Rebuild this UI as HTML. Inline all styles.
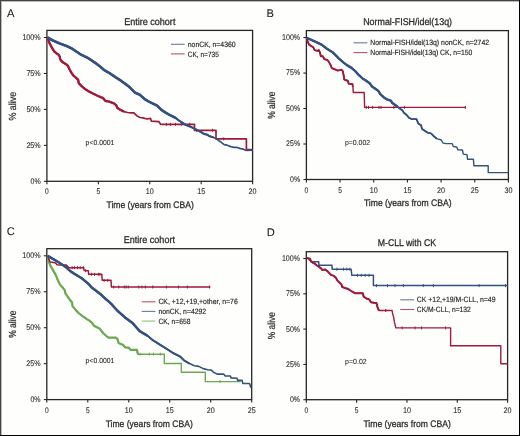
<!DOCTYPE html>
<html><head><meta charset="utf-8"><style>html,body{margin:0;padding:0;background:#fff;width:520px;height:436px;overflow:hidden}</style></head>
<body><svg width="520" height="436" viewBox="0 0 520 436" style="display:block;will-change:transform"><g font-family='"Liberation Sans", sans-serif' text-rendering="geometricPrecision"><rect x="0" y="0" width="520" height="436" fill="#fefefd"/><rect x="0.5" y="0.5" width="519" height="435" fill="none" stroke="#444" stroke-width="1"/><line x1="0" y1="435.5" x2="520" y2="435.5" stroke="#000" stroke-width="1"/><line x1="519.5" y1="0" x2="519.5" y2="436" stroke="#000" stroke-width="1"/><line x1="1.5" y1="1" x2="1.5" y2="435" stroke="#bbb" stroke-width="1"/><line x1="1" y1="1.5" x2="519" y2="1.5" stroke="#bbb" stroke-width="1"/><rect x="46.9" y="30.4" width="205.70" height="150.90" fill="none" stroke="#262626" stroke-width="1.3"/><line x1="43.9" y1="37.5" x2="46.9" y2="37.5" stroke="#262626" stroke-width="1.1"/><text x="40.7" y="39.9" font-size="8.2" text-anchor="end" textLength="18.3" lengthAdjust="spacingAndGlyphs" fill="#2b2b2b" stroke="#2b2b2b" stroke-width="0.1">100%</text><line x1="43.9" y1="73.45" x2="46.9" y2="73.45" stroke="#262626" stroke-width="1.1"/><text x="40.7" y="75.85" font-size="8.2" text-anchor="end" textLength="14.3" lengthAdjust="spacingAndGlyphs" fill="#2b2b2b" stroke="#2b2b2b" stroke-width="0.1">75%</text><line x1="43.9" y1="109.4" x2="46.9" y2="109.4" stroke="#262626" stroke-width="1.1"/><text x="40.7" y="111.8" font-size="8.2" text-anchor="end" textLength="14.3" lengthAdjust="spacingAndGlyphs" fill="#2b2b2b" stroke="#2b2b2b" stroke-width="0.1">50%</text><line x1="43.9" y1="145.35" x2="46.9" y2="145.35" stroke="#262626" stroke-width="1.1"/><text x="40.7" y="147.75" font-size="8.2" text-anchor="end" textLength="14.3" lengthAdjust="spacingAndGlyphs" fill="#2b2b2b" stroke="#2b2b2b" stroke-width="0.1">25%</text><line x1="43.9" y1="181.3" x2="46.9" y2="181.3" stroke="#262626" stroke-width="1.1"/><text x="40.7" y="183.7" font-size="8.2" text-anchor="end" textLength="10.2" lengthAdjust="spacingAndGlyphs" fill="#2b2b2b" stroke="#2b2b2b" stroke-width="0.1">0%</text><line x1="46.9" y1="181.3" x2="46.9" y2="184.3" stroke="#262626" stroke-width="1.1"/><text x="46.9" y="194.3" font-size="8.2" text-anchor="middle" textLength="3.7" lengthAdjust="spacingAndGlyphs" fill="#2b2b2b" stroke="#2b2b2b" stroke-width="0.1">0</text><line x1="98.32" y1="181.3" x2="98.32" y2="184.3" stroke="#262626" stroke-width="1.1"/><text x="98.32" y="194.3" font-size="8.2" text-anchor="middle" textLength="3.7" lengthAdjust="spacingAndGlyphs" fill="#2b2b2b" stroke="#2b2b2b" stroke-width="0.1">5</text><line x1="149.75" y1="181.3" x2="149.75" y2="184.3" stroke="#262626" stroke-width="1.1"/><text x="149.75" y="194.3" font-size="8.2" text-anchor="middle" textLength="8.0" lengthAdjust="spacingAndGlyphs" fill="#2b2b2b" stroke="#2b2b2b" stroke-width="0.1">10</text><line x1="201.17" y1="181.3" x2="201.17" y2="184.3" stroke="#262626" stroke-width="1.1"/><text x="201.17" y="194.3" font-size="8.2" text-anchor="middle" textLength="8.0" lengthAdjust="spacingAndGlyphs" fill="#2b2b2b" stroke="#2b2b2b" stroke-width="0.1">15</text><line x1="252.6" y1="181.3" x2="252.6" y2="184.3" stroke="#262626" stroke-width="1.1"/><text x="252.6" y="194.3" font-size="8.2" text-anchor="middle" textLength="8.0" lengthAdjust="spacingAndGlyphs" fill="#2b2b2b" stroke="#2b2b2b" stroke-width="0.1">20</text><rect x="306.4" y="30.6" width="202.00" height="148.90" fill="none" stroke="#262626" stroke-width="1.3"/><line x1="303.4" y1="37.56" x2="306.4" y2="37.56" stroke="#262626" stroke-width="1.1"/><text x="300.2" y="39.96" font-size="8.2" text-anchor="end" textLength="18.2" lengthAdjust="spacingAndGlyphs" fill="#2b2b2b" stroke="#2b2b2b" stroke-width="0.1">100%</text><line x1="303.4" y1="73.05" x2="306.4" y2="73.05" stroke="#262626" stroke-width="1.1"/><text x="300.2" y="75.45" font-size="8.2" text-anchor="end" textLength="14.1" lengthAdjust="spacingAndGlyphs" fill="#2b2b2b" stroke="#2b2b2b" stroke-width="0.1">75%</text><line x1="303.4" y1="108.53" x2="306.4" y2="108.53" stroke="#262626" stroke-width="1.1"/><text x="300.2" y="110.93" font-size="8.2" text-anchor="end" textLength="14.1" lengthAdjust="spacingAndGlyphs" fill="#2b2b2b" stroke="#2b2b2b" stroke-width="0.1">50%</text><line x1="303.4" y1="144.01" x2="306.4" y2="144.01" stroke="#262626" stroke-width="1.1"/><text x="300.2" y="146.41" font-size="8.2" text-anchor="end" textLength="14.1" lengthAdjust="spacingAndGlyphs" fill="#2b2b2b" stroke="#2b2b2b" stroke-width="0.1">25%</text><line x1="303.4" y1="179.5" x2="306.4" y2="179.5" stroke="#262626" stroke-width="1.1"/><text x="300.2" y="181.9" font-size="8.2" text-anchor="end" textLength="10.2" lengthAdjust="spacingAndGlyphs" fill="#2b2b2b" stroke="#2b2b2b" stroke-width="0.1">0%</text><line x1="306.4" y1="179.5" x2="306.4" y2="182.5" stroke="#262626" stroke-width="1.1"/><text x="306.4" y="192.5" font-size="8.2" text-anchor="middle" textLength="3.7" lengthAdjust="spacingAndGlyphs" fill="#2b2b2b" stroke="#2b2b2b" stroke-width="0.1">0</text><line x1="340.07" y1="179.5" x2="340.07" y2="182.5" stroke="#262626" stroke-width="1.1"/><text x="340.07" y="192.5" font-size="8.2" text-anchor="middle" textLength="3.7" lengthAdjust="spacingAndGlyphs" fill="#2b2b2b" stroke="#2b2b2b" stroke-width="0.1">5</text><line x1="373.73" y1="179.5" x2="373.73" y2="182.5" stroke="#262626" stroke-width="1.1"/><text x="373.73" y="192.5" font-size="8.2" text-anchor="middle" textLength="8.0" lengthAdjust="spacingAndGlyphs" fill="#2b2b2b" stroke="#2b2b2b" stroke-width="0.1">10</text><line x1="407.4" y1="179.5" x2="407.4" y2="182.5" stroke="#262626" stroke-width="1.1"/><text x="407.4" y="192.5" font-size="8.2" text-anchor="middle" textLength="8.0" lengthAdjust="spacingAndGlyphs" fill="#2b2b2b" stroke="#2b2b2b" stroke-width="0.1">15</text><line x1="441.07" y1="179.5" x2="441.07" y2="182.5" stroke="#262626" stroke-width="1.1"/><text x="441.07" y="192.5" font-size="8.2" text-anchor="middle" textLength="8.0" lengthAdjust="spacingAndGlyphs" fill="#2b2b2b" stroke="#2b2b2b" stroke-width="0.1">20</text><line x1="474.73" y1="179.5" x2="474.73" y2="182.5" stroke="#262626" stroke-width="1.1"/><text x="474.73" y="192.5" font-size="8.2" text-anchor="middle" textLength="8.0" lengthAdjust="spacingAndGlyphs" fill="#2b2b2b" stroke="#2b2b2b" stroke-width="0.1">25</text><line x1="508.4" y1="179.5" x2="508.4" y2="182.5" stroke="#262626" stroke-width="1.1"/><text x="508.4" y="192.5" font-size="8.2" text-anchor="middle" textLength="8.0" lengthAdjust="spacingAndGlyphs" fill="#2b2b2b" stroke="#2b2b2b" stroke-width="0.1">30</text><rect x="46.8" y="248.7" width="204.90" height="150.90" fill="none" stroke="#262626" stroke-width="1.3"/><line x1="43.8" y1="255.8" x2="46.8" y2="255.8" stroke="#262626" stroke-width="1.1"/><text x="40.6" y="258.2" font-size="8.2" text-anchor="end" textLength="18.3" lengthAdjust="spacingAndGlyphs" fill="#2b2b2b" stroke="#2b2b2b" stroke-width="0.1">100%</text><line x1="43.8" y1="291.75" x2="46.8" y2="291.75" stroke="#262626" stroke-width="1.1"/><text x="40.6" y="294.15" font-size="8.2" text-anchor="end" textLength="14.3" lengthAdjust="spacingAndGlyphs" fill="#2b2b2b" stroke="#2b2b2b" stroke-width="0.1">75%</text><line x1="43.8" y1="327.7" x2="46.8" y2="327.7" stroke="#262626" stroke-width="1.1"/><text x="40.6" y="330.1" font-size="8.2" text-anchor="end" textLength="14.3" lengthAdjust="spacingAndGlyphs" fill="#2b2b2b" stroke="#2b2b2b" stroke-width="0.1">50%</text><line x1="43.8" y1="363.65" x2="46.8" y2="363.65" stroke="#262626" stroke-width="1.1"/><text x="40.6" y="366.05" font-size="8.2" text-anchor="end" textLength="14.3" lengthAdjust="spacingAndGlyphs" fill="#2b2b2b" stroke="#2b2b2b" stroke-width="0.1">25%</text><line x1="43.8" y1="399.6" x2="46.8" y2="399.6" stroke="#262626" stroke-width="1.1"/><text x="40.6" y="402.0" font-size="8.2" text-anchor="end" textLength="10.2" lengthAdjust="spacingAndGlyphs" fill="#2b2b2b" stroke="#2b2b2b" stroke-width="0.1">0%</text><line x1="46.8" y1="399.6" x2="46.8" y2="402.6" stroke="#262626" stroke-width="1.1"/><text x="46.8" y="412.5" font-size="8.2" text-anchor="middle" textLength="3.7" lengthAdjust="spacingAndGlyphs" fill="#2b2b2b" stroke="#2b2b2b" stroke-width="0.1">0</text><line x1="87.78" y1="399.6" x2="87.78" y2="402.6" stroke="#262626" stroke-width="1.1"/><text x="87.78" y="412.5" font-size="8.2" text-anchor="middle" textLength="3.7" lengthAdjust="spacingAndGlyphs" fill="#2b2b2b" stroke="#2b2b2b" stroke-width="0.1">5</text><line x1="128.76" y1="399.6" x2="128.76" y2="402.6" stroke="#262626" stroke-width="1.1"/><text x="128.76" y="412.5" font-size="8.2" text-anchor="middle" textLength="8.0" lengthAdjust="spacingAndGlyphs" fill="#2b2b2b" stroke="#2b2b2b" stroke-width="0.1">10</text><line x1="169.74" y1="399.6" x2="169.74" y2="402.6" stroke="#262626" stroke-width="1.1"/><text x="169.74" y="412.5" font-size="8.2" text-anchor="middle" textLength="8.0" lengthAdjust="spacingAndGlyphs" fill="#2b2b2b" stroke="#2b2b2b" stroke-width="0.1">15</text><line x1="210.72" y1="399.6" x2="210.72" y2="402.6" stroke="#262626" stroke-width="1.1"/><text x="210.72" y="412.5" font-size="8.2" text-anchor="middle" textLength="8.0" lengthAdjust="spacingAndGlyphs" fill="#2b2b2b" stroke="#2b2b2b" stroke-width="0.1">20</text><line x1="251.7" y1="399.6" x2="251.7" y2="402.6" stroke="#262626" stroke-width="1.1"/><text x="251.7" y="412.5" font-size="8.2" text-anchor="middle" textLength="8.0" lengthAdjust="spacingAndGlyphs" fill="#2b2b2b" stroke="#2b2b2b" stroke-width="0.1">25</text><rect x="306.3" y="251.7" width="201.30" height="148.00" fill="none" stroke="#262626" stroke-width="1.3"/><line x1="303.3" y1="258.5" x2="306.3" y2="258.5" stroke="#262626" stroke-width="1.1"/><text x="300.1" y="260.9" font-size="8.2" text-anchor="end" textLength="18.2" lengthAdjust="spacingAndGlyphs" fill="#2b2b2b" stroke="#2b2b2b" stroke-width="0.1">100%</text><line x1="303.3" y1="293.8" x2="306.3" y2="293.8" stroke="#262626" stroke-width="1.1"/><text x="300.1" y="296.2" font-size="8.2" text-anchor="end" textLength="14.1" lengthAdjust="spacingAndGlyphs" fill="#2b2b2b" stroke="#2b2b2b" stroke-width="0.1">75%</text><line x1="303.3" y1="329.1" x2="306.3" y2="329.1" stroke="#262626" stroke-width="1.1"/><text x="300.1" y="331.5" font-size="8.2" text-anchor="end" textLength="14.1" lengthAdjust="spacingAndGlyphs" fill="#2b2b2b" stroke="#2b2b2b" stroke-width="0.1">50%</text><line x1="303.3" y1="364.4" x2="306.3" y2="364.4" stroke="#262626" stroke-width="1.1"/><text x="300.1" y="366.8" font-size="8.2" text-anchor="end" textLength="14.1" lengthAdjust="spacingAndGlyphs" fill="#2b2b2b" stroke="#2b2b2b" stroke-width="0.1">25%</text><line x1="303.3" y1="399.7" x2="306.3" y2="399.7" stroke="#262626" stroke-width="1.1"/><text x="300.1" y="402.1" font-size="8.2" text-anchor="end" textLength="10.2" lengthAdjust="spacingAndGlyphs" fill="#2b2b2b" stroke="#2b2b2b" stroke-width="0.1">0%</text><line x1="306.3" y1="399.7" x2="306.3" y2="402.7" stroke="#262626" stroke-width="1.1"/><text x="306.3" y="412.6" font-size="8.2" text-anchor="middle" textLength="3.7" lengthAdjust="spacingAndGlyphs" fill="#2b2b2b" stroke="#2b2b2b" stroke-width="0.1">0</text><line x1="356.62" y1="399.7" x2="356.62" y2="402.7" stroke="#262626" stroke-width="1.1"/><text x="356.62" y="412.6" font-size="8.2" text-anchor="middle" textLength="3.7" lengthAdjust="spacingAndGlyphs" fill="#2b2b2b" stroke="#2b2b2b" stroke-width="0.1">5</text><line x1="406.95" y1="399.7" x2="406.95" y2="402.7" stroke="#262626" stroke-width="1.1"/><text x="406.95" y="412.6" font-size="8.2" text-anchor="middle" textLength="8.0" lengthAdjust="spacingAndGlyphs" fill="#2b2b2b" stroke="#2b2b2b" stroke-width="0.1">10</text><line x1="457.28" y1="399.7" x2="457.28" y2="402.7" stroke="#262626" stroke-width="1.1"/><text x="457.28" y="412.6" font-size="8.2" text-anchor="middle" textLength="8.0" lengthAdjust="spacingAndGlyphs" fill="#2b2b2b" stroke="#2b2b2b" stroke-width="0.1">15</text><line x1="507.6" y1="399.7" x2="507.6" y2="402.7" stroke="#262626" stroke-width="1.1"/><text x="507.6" y="412.6" font-size="8.2" text-anchor="middle" textLength="8.0" lengthAdjust="spacingAndGlyphs" fill="#2b2b2b" stroke="#2b2b2b" stroke-width="0.1">20</text><polyline points="47.5,37.5 48.4,40.1 49.4,42.9 50.8,45.6 52.5,48.7 54.3,51.5 56.3,53.2 58.4,54.6 59.8,56.6 60.0,58.7 61.1,60.8 63.2,62.5 66.0,64.2 68.0,66.0 69.5,69.3 71.3,72.6 73.2,75.3 75.9,77.6 78.2,79.9 78.7,83.1 81.4,85.9 85.1,89.1 88.8,91.4 93.4,93.7 97.0,95.5 100.7,97.2 102.8,97.9 105.5,101.0 109.2,101.6 113.8,103.3 116.1,105.1 117.4,107.9 120.2,109.7 123.9,111.6 127.5,112.5 131.2,112.9 133.9,112.9 136.7,115.7 140.0,117.5 143.1,117.9 146.8,119.0 150.5,118.4 151.4,121.2 158.7,121.6 160.6,124.3 194.5,124.3 194.5,130.3 216.0,130.3 216.0,138.9 246.4,138.9 246.4,149.5 252.6,149.5" fill="none" stroke="#9f1a3b" stroke-width="1.7" stroke-linejoin="round" stroke-linecap="butt" opacity="1"/><polyline points="47.5,37.5 48.4,40.1 49.4,42.9 50.8,45.6 52.5,48.7 54.3,51.5 56.3,53.2 58.4,54.6 59.8,56.6 60.0,58.7 61.1,60.8 63.2,62.5 66.0,64.2 68.0,66.0 69.5,69.3 71.3,72.6 73.2,75.3 75.9,77.6 78.2,79.9 78.7,83.1 81.4,85.9 85.1,89.1 88.8,91.4 93.4,93.7 97.0,95.5 100.7,97.2 102.8,97.9 105.5,101.0 109.2,101.6 113.8,103.3 116.1,105.1 117.4,107.9 120.2,109.7 123.9,111.6" fill="none" stroke="#9f1a3b" stroke-width="2.4" stroke-linejoin="round" stroke-linecap="butt" opacity="1"/><line x1="166.3" y1="122.8" x2="166.3" y2="125.8" stroke="#9f1a3b" stroke-width="1.0"/><line x1="170.4" y1="122.8" x2="170.4" y2="125.8" stroke="#9f1a3b" stroke-width="1.0"/><line x1="175.5" y1="122.8" x2="175.5" y2="125.8" stroke="#9f1a3b" stroke-width="1.0"/><line x1="181.4" y1="122.8" x2="181.4" y2="125.8" stroke="#9f1a3b" stroke-width="1.0"/><line x1="189.7" y1="122.8" x2="189.7" y2="125.8" stroke="#9f1a3b" stroke-width="1.0"/><line x1="196.6" y1="128.8" x2="196.6" y2="131.8" stroke="#9f1a3b" stroke-width="1.0"/><line x1="212.5" y1="128.8" x2="212.5" y2="131.8" stroke="#9f1a3b" stroke-width="1.0"/><line x1="223.7" y1="137.4" x2="223.7" y2="140.4" stroke="#9f1a3b" stroke-width="1.0"/><polyline points="47.5,37.5 52.9,40.5 59.8,43.5 66.6,46.0 72.2,48.7 76.0,51.3 80.4,54.3 87.3,57.7 89.7,59.2 95.2,62.8 100.7,67.0 104.3,70.2 109.9,73.4 115.4,77.1 120.9,80.7 126.0,84.4 129.2,86.8 135.2,92.8 139.8,94.7 144.3,98.8 148.9,101.6 153.5,103.9 157.2,105.7 160.9,109.4 164.0,111.7 168.6,114.4 173.2,116.7 175.9,118.1 178.7,120.4 182.3,122.7 186.0,125.0 190.6,126.8 194.3,128.6 197.9,130.5 200.7,131.9 204.0,133.9 206.9,134.6 209.8,136.3 213.6,137.5 216.0,138.5 218.4,140.4 221.3,142.3 224.2,144.7 227.1,145.2 230.9,146.6 233.8,147.3 236.7,147.3 240.5,148.6 243.4,149.2 246.3,150.5 252.6,150.2" fill="none" stroke="#33527f" stroke-width="1.7" stroke-linejoin="round" stroke-linecap="butt" opacity="1"/><polyline points="47.5,37.5 52.9,40.5 59.8,43.5 66.6,46.0 72.2,48.7 76.0,51.3 80.4,54.3 87.3,57.7 89.7,59.2 95.2,62.8 100.7,67.0 104.3,70.2 109.9,73.4 115.4,77.1 120.9,80.7 126.0,84.4 129.2,86.8 135.2,92.8 139.8,94.7 144.3,98.8 148.9,101.6 153.5,103.9 157.2,105.7 160.9,109.4 164.0,111.7 168.6,114.4 173.2,116.7 175.9,118.1 178.7,120.4 182.3,122.7 186.0,125.0 190.6,126.8 194.3,128.6 197.9,130.5 200.7,131.9 204.0,133.9 206.9,134.6 209.8,136.3 213.6,137.5" fill="none" stroke="#33527f" stroke-width="2.1" stroke-linejoin="round" stroke-linecap="butt" opacity="1"/><polyline points="47.5,37.5 52.9,40.5 59.8,43.5 66.6,46.0 72.2,48.7 76.0,51.3 80.4,54.3 87.3,57.7 89.7,59.2 95.2,62.8 100.7,67.0 104.3,70.2 109.9,73.4 115.4,77.1 120.9,80.7 126.0,84.4 129.2,86.8 135.2,92.8 139.8,94.7 144.3,98.8 148.9,101.6 153.5,103.9 157.2,105.7 160.9,109.4 164.0,111.7 168.6,114.4 173.2,116.7 175.9,118.1" fill="none" stroke="#33527f" stroke-width="2.6" stroke-linejoin="round" stroke-linecap="butt" opacity="1"/><polyline points="306.7,37.8 307.8,41.9 309.1,44.6 311.2,46.0 313.3,47.4 314.6,50.1 317.4,50.8 318.8,50.1 320.1,52.9 320.8,56.3 322.9,56.3 324.3,59.1 327.0,59.8 328.4,61.1 330.4,64.6 331.8,68.0 334.6,69.4 335.0,69.3 337.8,70.6 341.4,69.7 342.8,71.1 343.7,75.7 344.2,79.4 346.0,80.3 347.8,80.7 348.8,83.9 352.4,83.9 352.9,86.7 353.3,92.5 364.2,92.5 364.6,107.4 466.1,107.4" fill="none" stroke="#9f1a3b" stroke-width="1.4" stroke-linejoin="round" stroke-linecap="butt" opacity="1"/><polyline points="306.7,37.8 307.8,41.9 309.1,44.6 311.2,46.0 313.3,47.4 314.6,50.1 317.4,50.8 318.8,50.1 320.1,52.9 320.8,56.3 322.9,56.3 324.3,59.1 327.0,59.8 328.4,61.1 330.4,64.6 331.8,68.0 334.6,69.4 335.0,69.3 337.8,70.6 341.4,69.7 342.8,71.1 343.7,75.7 344.2,79.4 346.0,80.3 347.8,80.7 348.8,83.9 352.4,83.9 352.9,86.7" fill="none" stroke="#9f1a3b" stroke-width="1.9" stroke-linejoin="round" stroke-linecap="butt" opacity="1"/><line x1="366.3" y1="105.9" x2="366.3" y2="108.9" stroke="#9f1a3b" stroke-width="1.0"/><line x1="368.5" y1="105.9" x2="368.5" y2="108.9" stroke="#9f1a3b" stroke-width="1.0"/><line x1="372.7" y1="105.9" x2="372.7" y2="108.9" stroke="#9f1a3b" stroke-width="1.0"/><line x1="379" y1="105.9" x2="379" y2="108.9" stroke="#9f1a3b" stroke-width="1.0"/><line x1="381.1" y1="105.9" x2="381.1" y2="108.9" stroke="#9f1a3b" stroke-width="1.0"/><line x1="393.8" y1="105.9" x2="393.8" y2="108.9" stroke="#9f1a3b" stroke-width="1.0"/><line x1="404.4" y1="105.9" x2="404.4" y2="108.9" stroke="#9f1a3b" stroke-width="1.0"/><line x1="465.3" y1="105.9" x2="465.3" y2="108.9" stroke="#9f1a3b" stroke-width="1.0"/><polyline points="306.7,37.8 311.9,40.2 317.4,42.6 321.5,44.6 327.0,48.8 332.5,52.2 335.0,54.6 338.7,58.3 343.3,62.4 346.9,65.1 351.5,67.9 355.2,71.1 358.9,75.2 362.5,78.4 366.2,80.7 369.9,83.5 372.0,86.5 375.7,89.1 378.4,91.0 380.3,94.2 383.9,97.4 387.6,99.7 390.8,100.6 392.2,102.9 394.9,104.7 397.7,107.0 400.4,108.9 402.3,110.2 403.7,112.5 406.9,115.3 409.2,118.0 412.0,119.1 416.5,119.1 418.3,123.4 421.1,125.3 422.0,128.9 424.8,130.8 427.5,132.6 431.2,133.5 433.9,136.3 436.7,138.7 441.3,140.0 443.1,143.1 445.9,143.6 452.3,143.6 453.2,146.4 456.9,147.3 457.8,149.7 462.4,150.0 463.3,154.1 467.0,154.6 467.5,159.2 473.4,159.2 473.9,165.8 488.2,165.8 488.2,172.6 508.4,172.6" fill="none" stroke="#33527f" stroke-width="1.4" stroke-linejoin="round" stroke-linecap="butt" opacity="1"/><polyline points="306.7,37.8 311.9,40.2 317.4,42.6 321.5,44.6 327.0,48.8 332.5,52.2 335.0,54.6 338.7,58.3 343.3,62.4 346.9,65.1 351.5,67.9 355.2,71.1 358.9,75.2 362.5,78.4 366.2,80.7 369.9,83.5 372.0,86.5 375.7,89.1 378.4,91.0 380.3,94.2 383.9,97.4 387.6,99.7 390.8,100.6 392.2,102.9 394.9,104.7 397.7,107.0 400.4,108.9 402.3,110.2 403.7,112.5 406.9,115.3 409.2,118.0 412.0,119.1 416.5,119.1 418.3,123.4 421.1,125.3 422.0,128.9 424.8,130.8 427.5,132.6 431.2,133.5 433.9,136.3 436.7,138.7" fill="none" stroke="#33527f" stroke-width="1.8" stroke-linejoin="round" stroke-linecap="butt" opacity="1"/><polyline points="306.7,37.8 311.9,40.2 317.4,42.6 321.5,44.6 327.0,48.8 332.5,52.2 335.0,54.6 338.7,58.3 343.3,62.4 346.9,65.1 351.5,67.9 355.2,71.1 358.9,75.2 362.5,78.4 366.2,80.7 369.9,83.5 372.0,86.5 375.7,89.1 378.4,91.0 380.3,94.2 383.9,97.4 387.6,99.7 390.8,100.6 392.2,102.9 394.9,104.7 397.7,107.0" fill="none" stroke="#33527f" stroke-width="2.4" stroke-linejoin="round" stroke-linecap="butt" opacity="1"/><polyline points="47.7,255.8 48.5,260.3 50.1,265.1 52.9,269.9 55.6,274.7 57.8,280.0 59.7,284.1 62.4,287.3 64.7,290.1 65.2,292.8 67.5,296.5 69.8,299.7 72.1,302.5 72.5,306.1 75.3,309.4 78.5,313.0 82.6,316.2 87.2,319.4 89.0,320.4 92.0,322.9 93.9,325.7 99.4,328.4 103.0,333.0 106.7,336.3 108.5,337.6 115.9,337.6 117.7,339.4 118.6,343.1 123.2,345.0 125.0,347.3 128.7,347.7 130.6,349.9 137.0,349.9 137.9,354.2 164.3,354.2 164.3,363.5 181.3,363.5 181.3,372.3 205.3,372.3 205.3,381.6 240.7,381.6" fill="none" stroke="#6aaa50" stroke-width="1.4" stroke-linejoin="round" stroke-linecap="butt" opacity="1"/><polyline points="47.7,255.8 48.5,260.3 50.1,265.1 52.9,269.9 55.6,274.7 57.8,280.0 59.7,284.1 62.4,287.3 64.7,290.1 65.2,292.8 67.5,296.5 69.8,299.7 72.1,302.5 72.5,306.1 75.3,309.4 78.5,313.0 82.6,316.2 87.2,319.4 89.0,320.4 92.0,322.9 93.9,325.7 99.4,328.4 103.0,333.0 106.7,336.3 108.5,337.6 115.9,337.6 117.7,339.4 118.6,343.1 123.2,345.0 125.0,347.3 128.7,347.7 130.6,349.9 137.0,349.9 137.9,354.2" fill="none" stroke="#6aaa50" stroke-width="2.2" stroke-linejoin="round" stroke-linecap="butt" opacity="1"/><polyline points="47.7,255.8 49.4,260.3 50.1,261.9 52.2,262.3 55.6,263.0 57.0,264.7 61.1,265.1 66.6,265.1 68.0,266.9 69.1,267.7 83.7,267.7 84.1,270.5 88.3,270.7 88.7,274.3 101.8,274.3 102.2,280.3 111.0,280.3 111.4,287.0 210.4,287.0" fill="none" stroke="#9f1a3b" stroke-width="1.5" stroke-linejoin="round" stroke-linecap="butt" opacity="1"/><line x1="140.1" y1="352.7" x2="140.1" y2="355.7" stroke="#6aaa50" stroke-width="1.0"/><line x1="149.3" y1="352.7" x2="149.3" y2="355.7" stroke="#6aaa50" stroke-width="1.0"/><line x1="153.4" y1="352.7" x2="153.4" y2="355.7" stroke="#6aaa50" stroke-width="1.0"/><line x1="160.3" y1="352.7" x2="160.3" y2="355.7" stroke="#6aaa50" stroke-width="1.0"/><line x1="220.1" y1="380.1" x2="220.1" y2="383.1" stroke="#6aaa50" stroke-width="1.0"/><line x1="72.2" y1="266.2" x2="72.2" y2="269.2" stroke="#9f1a3b" stroke-width="1.0"/><line x1="74.5" y1="266.2" x2="74.5" y2="269.2" stroke="#9f1a3b" stroke-width="1.0"/><line x1="77.5" y1="266.2" x2="77.5" y2="269.2" stroke="#9f1a3b" stroke-width="1.0"/><line x1="80.2" y1="266.2" x2="80.2" y2="269.2" stroke="#9f1a3b" stroke-width="1.0"/><line x1="83.3" y1="266.2" x2="83.3" y2="269.2" stroke="#9f1a3b" stroke-width="1.0"/><line x1="85.6" y1="269.2" x2="85.6" y2="272.2" stroke="#9f1a3b" stroke-width="1.0"/><line x1="91.4" y1="272.8" x2="91.4" y2="275.8" stroke="#9f1a3b" stroke-width="1.0"/><line x1="94.5" y1="272.8" x2="94.5" y2="275.8" stroke="#9f1a3b" stroke-width="1.0"/><line x1="98.3" y1="272.8" x2="98.3" y2="275.8" stroke="#9f1a3b" stroke-width="1.0"/><line x1="99.8" y1="272.8" x2="99.8" y2="275.8" stroke="#9f1a3b" stroke-width="1.0"/><line x1="104.1" y1="278.8" x2="104.1" y2="281.8" stroke="#9f1a3b" stroke-width="1.0"/><line x1="107.7" y1="278.8" x2="107.7" y2="281.8" stroke="#9f1a3b" stroke-width="1.0"/><line x1="113.7" y1="285.5" x2="113.7" y2="288.5" stroke="#9f1a3b" stroke-width="1.0"/><line x1="118.8" y1="285.5" x2="118.8" y2="288.5" stroke="#9f1a3b" stroke-width="1.0"/><line x1="124.3" y1="285.5" x2="124.3" y2="288.5" stroke="#9f1a3b" stroke-width="1.0"/><line x1="126.1" y1="285.5" x2="126.1" y2="288.5" stroke="#9f1a3b" stroke-width="1.0"/><line x1="128.3" y1="285.5" x2="128.3" y2="288.5" stroke="#9f1a3b" stroke-width="1.0"/><line x1="138.7" y1="285.5" x2="138.7" y2="288.5" stroke="#9f1a3b" stroke-width="1.0"/><line x1="142" y1="285.5" x2="142" y2="288.5" stroke="#9f1a3b" stroke-width="1.0"/><line x1="145.4" y1="285.5" x2="145.4" y2="288.5" stroke="#9f1a3b" stroke-width="1.0"/><line x1="152.7" y1="285.5" x2="152.7" y2="288.5" stroke="#9f1a3b" stroke-width="1.0"/><line x1="166.4" y1="285.5" x2="166.4" y2="288.5" stroke="#9f1a3b" stroke-width="1.0"/><line x1="178.5" y1="285.5" x2="178.5" y2="288.5" stroke="#9f1a3b" stroke-width="1.0"/><line x1="187.4" y1="285.5" x2="187.4" y2="288.5" stroke="#9f1a3b" stroke-width="1.0"/><line x1="209.5" y1="285.5" x2="209.5" y2="288.5" stroke="#9f1a3b" stroke-width="1.0"/><polyline points="47.7,255.8 52.9,258.9 59.8,263.0 66.0,267.2 69.8,270.7 73.7,273.4 77.5,275.7 81.4,278.0 85.2,281.1 89.1,284.5 91.4,287.2 94.1,289.3 101.0,294.6 105.5,298.8 111.0,303.6 117.7,311.0 125.0,317.4 132.4,322.9 139.7,331.2 147.3,335.6 152.8,340.2 160.2,344.8 167.5,349.4 173.0,353.0 180.4,356.7 184.0,360.4 189.5,363.6 194.4,365.7 198.8,366.4 203.2,368.6 207.6,369.7 211.3,370.1 213.5,372.3 217.2,374.1 223.8,374.1 225.2,376.0 230.4,376.0 231.1,377.9 237.0,378.2 237.7,380.4 242.1,380.4 242.9,383.5 249.5,383.5 251.0,387.7" fill="none" stroke="#33527f" stroke-width="1.6" stroke-linejoin="round" stroke-linecap="butt" opacity="1"/><polyline points="47.7,255.8 52.9,258.9 59.8,263.0 66.0,267.2 69.8,270.7 73.7,273.4 77.5,275.7 81.4,278.0 85.2,281.1 89.1,284.5 91.4,287.2 94.1,289.3 101.0,294.6 105.5,298.8 111.0,303.6 117.7,311.0 125.0,317.4 132.4,322.9 139.7,331.2 147.3,335.6 152.8,340.2 160.2,344.8 167.5,349.4 173.0,353.0 180.4,356.7 184.0,360.4 189.5,363.6" fill="none" stroke="#33527f" stroke-width="2.0" stroke-linejoin="round" stroke-linecap="butt" opacity="1"/><polyline points="47.7,255.8 52.9,258.9 59.8,263.0 66.0,267.2 69.8,270.7 73.7,273.4 77.5,275.7 81.4,278.0 85.2,281.1 89.1,284.5 91.4,287.2 94.1,289.3 101.0,294.6 105.5,298.8 111.0,303.6 117.7,311.0 125.0,317.4 132.4,322.9 139.7,331.2 147.3,335.6" fill="none" stroke="#33527f" stroke-width="2.5" stroke-linejoin="round" stroke-linecap="butt" opacity="1"/><polyline points="306.6,258.1 310.4,258.4 310.7,261.8 318.7,261.8 318.9,265.3 332.0,265.3 332.2,269.2 351.1,269.2 351.8,275.3 373.4,275.3 373.4,285.6 507.6,285.6" fill="none" stroke="#33527f" stroke-width="1.5" stroke-linejoin="round" stroke-linecap="butt" opacity="1"/><polyline points="306.6,258.1 308.4,258.4 310.5,260.5 312.6,262.6 314.6,263.5 316.7,265.3 318.8,266.7 320.8,268.1 322.2,269.9 324.9,269.4 327.0,270.8 329.1,272.9 331.1,274.9 333.9,275.9 335.9,277.7 337.3,280.4 339.4,282.5 341.5,284.6 342.1,286.9 344.9,288.0 347.6,288.7 350.4,290.5 353.1,292.1 355.2,293.3 362.8,293.3 363.7,296.7 366.4,298.5 369.2,299.4 371.0,302.2 373.8,302.8 376.5,303.1 377.4,306.8 378.9,310.5 392.1,310.5 392.7,314.1 393.6,316.9 394.5,322.4 395.8,327.9 450.6,327.9 450.6,345.8 500.8,345.8 500.8,363.8 507.6,363.8" fill="none" stroke="#9f1a3b" stroke-width="1.4" stroke-linejoin="round" stroke-linecap="butt" opacity="1"/><polyline points="306.6,258.1 308.4,258.4 310.5,260.5 312.6,262.6 314.6,263.5 316.7,265.3 318.8,266.7 320.8,268.1 322.2,269.9 324.9,269.4 327.0,270.8 329.1,272.9 331.1,274.9 333.9,275.9 335.9,277.7 337.3,280.4 339.4,282.5 341.5,284.6 342.1,286.9 344.9,288.0 347.6,288.7 350.4,290.5 353.1,292.1 355.2,293.3 362.8,293.3 363.7,296.7 366.4,298.5 369.2,299.4 371.0,302.2 373.8,302.8 376.5,303.1 377.4,306.8 378.9,310.5" fill="none" stroke="#9f1a3b" stroke-width="2.0" stroke-linejoin="round" stroke-linecap="butt" opacity="1"/><line x1="336.9" y1="267.7" x2="336.9" y2="270.7" stroke="#33527f" stroke-width="1.0"/><line x1="343.5" y1="267.7" x2="343.5" y2="270.7" stroke="#33527f" stroke-width="1.0"/><line x1="346.9" y1="267.7" x2="346.9" y2="270.7" stroke="#33527f" stroke-width="1.0"/><line x1="349.8" y1="267.7" x2="349.8" y2="270.7" stroke="#33527f" stroke-width="1.0"/><line x1="357.5" y1="273.8" x2="357.5" y2="276.8" stroke="#33527f" stroke-width="1.0"/><line x1="361.3" y1="273.8" x2="361.3" y2="276.8" stroke="#33527f" stroke-width="1.0"/><line x1="365.2" y1="273.8" x2="365.2" y2="276.8" stroke="#33527f" stroke-width="1.0"/><line x1="369" y1="273.8" x2="369" y2="276.8" stroke="#33527f" stroke-width="1.0"/><line x1="376.5" y1="284.1" x2="376.5" y2="287.1" stroke="#33527f" stroke-width="1.0"/><line x1="387.5" y1="284.1" x2="387.5" y2="287.1" stroke="#33527f" stroke-width="1.0"/><line x1="395" y1="284.1" x2="395" y2="287.1" stroke="#33527f" stroke-width="1.0"/><line x1="403.4" y1="284.1" x2="403.4" y2="287.1" stroke="#33527f" stroke-width="1.0"/><line x1="423.3" y1="284.1" x2="423.3" y2="287.1" stroke="#33527f" stroke-width="1.0"/><line x1="433.4" y1="284.1" x2="433.4" y2="287.1" stroke="#33527f" stroke-width="1.0"/><line x1="479.1" y1="284.1" x2="479.1" y2="287.1" stroke="#33527f" stroke-width="1.0"/><line x1="505.5" y1="284.1" x2="505.5" y2="287.1" stroke="#33527f" stroke-width="1.0"/><line x1="385.7" y1="309.0" x2="385.7" y2="312.0" stroke="#9f1a3b" stroke-width="1.0"/><line x1="402.2" y1="326.4" x2="402.2" y2="329.4" stroke="#9f1a3b" stroke-width="1.0"/><line x1="415" y1="326.4" x2="415" y2="329.4" stroke="#9f1a3b" stroke-width="1.0"/><line x1="421.5" y1="326.4" x2="421.5" y2="329.4" stroke="#9f1a3b" stroke-width="1.0"/><line x1="445.6" y1="326.4" x2="445.6" y2="329.4" stroke="#9f1a3b" stroke-width="1.0"/><text x="7.0" y="17.0" font-size="11.2" fill="#1a1a1a" stroke="#1a1a1a" stroke-width="0.05">A</text><text x="266.6" y="16.9" font-size="11.2" fill="#1a1a1a" stroke="#1a1a1a" stroke-width="0.05">B</text><text x="6.8" y="235.4" font-size="11.2" fill="#1a1a1a" stroke="#1a1a1a" stroke-width="0.05">C</text><text x="266.8" y="235.6" font-size="11.2" fill="#1a1a1a" stroke="#1a1a1a" stroke-width="0.05">D</text><text x="124.2" y="24.9" font-size="9.8" textLength="51.2" lengthAdjust="spacingAndGlyphs" fill="#2b2b2b" stroke="#2b2b2b" stroke-width="0.28">Entire cohort</text><text x="363.2" y="25.0" font-size="9.8" textLength="88.9" lengthAdjust="spacingAndGlyphs" fill="#2b2b2b" stroke="#2b2b2b" stroke-width="0.28">Normal-FISH/idel(13q)</text><text x="123.8" y="243.4" font-size="9.8" textLength="51.1" lengthAdjust="spacingAndGlyphs" fill="#2b2b2b" stroke="#2b2b2b" stroke-width="0.28">Entire cohort</text><text x="377.8" y="246.4" font-size="9.8" textLength="58.3" lengthAdjust="spacingAndGlyphs" fill="#2b2b2b" stroke="#2b2b2b" stroke-width="0.28">M-CLL with CK</text><text x="106.5" y="208.2" font-size="9.5" textLength="87.3" lengthAdjust="spacingAndGlyphs" fill="#2b2b2b" stroke="#2b2b2b" stroke-width="0.28">Time (years from CBA)</text><text x="363.9" y="206.1" font-size="9.5" textLength="87.7" lengthAdjust="spacingAndGlyphs" fill="#2b2b2b" stroke="#2b2b2b" stroke-width="0.28">Time (years from CBA)</text><text x="105.7" y="427.3" font-size="9.5" textLength="87.1" lengthAdjust="spacingAndGlyphs" fill="#2b2b2b" stroke="#2b2b2b" stroke-width="0.28">Time (years from CBA)</text><text x="363.4" y="427.3" font-size="9.5" textLength="87.5" lengthAdjust="spacingAndGlyphs" fill="#2b2b2b" stroke="#2b2b2b" stroke-width="0.28">Time (years from CBA)</text><text x="0" y="0" font-size="10.3" text-anchor="middle" textLength="28.9" lengthAdjust="spacingAndGlyphs" fill="#2b2b2b" stroke="#2b2b2b" stroke-width="0.2" transform="translate(15.7,106.15) rotate(-90)">% alive</text><text x="0" y="0" font-size="10.3" text-anchor="middle" textLength="27.3" lengthAdjust="spacingAndGlyphs" fill="#2b2b2b" stroke="#2b2b2b" stroke-width="0.2" transform="translate(274.9,105.15) rotate(-90)">% alive</text><text x="0" y="0" font-size="10.3" text-anchor="middle" textLength="27.3" lengthAdjust="spacingAndGlyphs" fill="#2b2b2b" stroke="#2b2b2b" stroke-width="0.2" transform="translate(15.7,324.15) rotate(-90)">% alive</text><text x="0" y="0" font-size="10.3" text-anchor="middle" textLength="27.1" lengthAdjust="spacingAndGlyphs" fill="#2b2b2b" stroke="#2b2b2b" stroke-width="0.2" transform="translate(274.8,325.65) rotate(-90)">% alive</text><text x="85.6" y="145.4" font-size="7.3" textLength="28.8" lengthAdjust="spacingAndGlyphs" fill="#2b2b2b" stroke="#2b2b2b" stroke-width="0.08">p&lt;0.0001</text><text x="344.9" y="145.4" font-size="7.3" textLength="25.2" lengthAdjust="spacingAndGlyphs" fill="#2b2b2b" stroke="#2b2b2b" stroke-width="0.08">p=0.002</text><text x="85.6" y="363.3" font-size="7.3" textLength="28.8" lengthAdjust="spacingAndGlyphs" fill="#2b2b2b" stroke="#2b2b2b" stroke-width="0.08">p&lt;0.0001</text><text x="345.1" y="363.7" font-size="7.3" textLength="21.6" lengthAdjust="spacingAndGlyphs" fill="#2b2b2b" stroke="#2b2b2b" stroke-width="0.08">p=0.02</text><line x1="170.9" y1="44.3" x2="184.7" y2="44.3" stroke="#33527f" stroke-width="1.1" opacity="0.75"/><text x="187.8" y="46.9" font-size="7.6" textLength="47.8" lengthAdjust="spacingAndGlyphs" fill="#2b2b2b" stroke="#2b2b2b" stroke-width="0.18">nonCK, n=4360</text><line x1="170.9" y1="53.9" x2="184.7" y2="53.9" stroke="#9f1a3b" stroke-width="1.1" opacity="0.75"/><text x="187.8" y="56.5" font-size="7.6" textLength="31.0" lengthAdjust="spacingAndGlyphs" fill="#2b2b2b" stroke="#2b2b2b" stroke-width="0.18">CK, n=735</text><line x1="353.5" y1="42.8" x2="367.3" y2="42.8" stroke="#33527f" stroke-width="1.1" opacity="0.75"/><text x="370.3" y="45.4" font-size="7.6" textLength="118.8" lengthAdjust="spacingAndGlyphs" fill="#2b2b2b" stroke="#2b2b2b" stroke-width="0.18">Normal-FISH/idel(13q) nonCK, n=2742</text><line x1="353.5" y1="52.6" x2="367.3" y2="52.6" stroke="#9f1a3b" stroke-width="1.1" opacity="0.75"/><text x="370.3" y="55.2" font-size="7.6" textLength="102.1" lengthAdjust="spacingAndGlyphs" fill="#2b2b2b" stroke="#2b2b2b" stroke-width="0.18">Normal-FISH/idel(13q) CK, n=150</text><line x1="141.7" y1="301.8" x2="155.5" y2="301.8" stroke="#9f1a3b" stroke-width="1.1" opacity="0.75"/><text x="158.4" y="304.4" font-size="7.6" textLength="79.4" lengthAdjust="spacingAndGlyphs" fill="#2b2b2b" stroke="#2b2b2b" stroke-width="0.18">CK, +12,+19,+other, n=76</text><line x1="141.7" y1="311.4" x2="155.5" y2="311.4" stroke="#33527f" stroke-width="1.1" opacity="0.75"/><text x="158.4" y="314.0" font-size="7.6" textLength="47.7" lengthAdjust="spacingAndGlyphs" fill="#2b2b2b" stroke="#2b2b2b" stroke-width="0.18">nonCK, n=4292</text><line x1="141.7" y1="321.1" x2="155.5" y2="321.1" stroke="#6aaa50" stroke-width="1.1" opacity="0.75"/><text x="158.4" y="323.7" font-size="7.6" textLength="32.0" lengthAdjust="spacingAndGlyphs" fill="#2b2b2b" stroke="#2b2b2b" stroke-width="0.18">CK, n=658</text><line x1="400.2" y1="299.8" x2="414.1" y2="299.8" stroke="#33527f" stroke-width="1.1" opacity="0.75"/><text x="416.8" y="302.4" font-size="7.6" textLength="78.7" lengthAdjust="spacingAndGlyphs" fill="#2b2b2b" stroke="#2b2b2b" stroke-width="0.18">CK +12,+19/M-CLL, n=49</text><line x1="400.2" y1="309.5" x2="414.1" y2="309.5" stroke="#9f1a3b" stroke-width="1.1" opacity="0.75"/><text x="416.8" y="312.1" font-size="7.6" textLength="54.0" lengthAdjust="spacingAndGlyphs" fill="#2b2b2b" stroke="#2b2b2b" stroke-width="0.18">CK/M-CLL, n=132</text></g></svg></body></html>
